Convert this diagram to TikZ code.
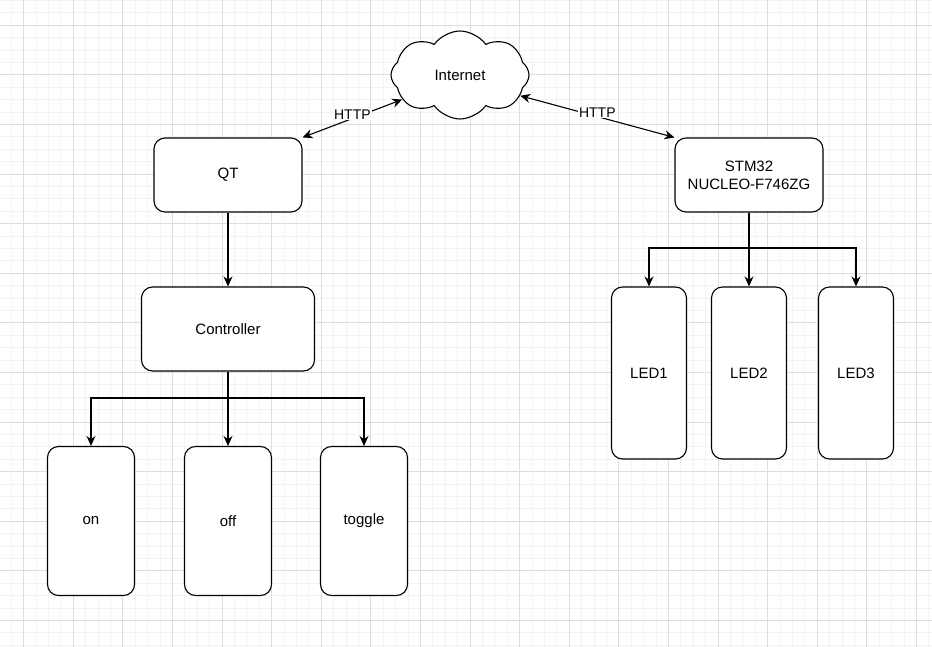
\documentclass[tikz,border=0pt]{standalone}
\usepackage{fontspec}
\setmainfont{Liberation Sans}
\usetikzlibrary{shapes.symbols, arrows.meta}

\definecolor{gridminor}{HTML}{F3F3F3}
\definecolor{gridmajor}{HTML}{DEDEDE}

\begin{document}
\begin{tikzpicture}[x=1pt, y=-1pt,
    box/.style={draw, line width=1.1pt, rounded corners=11pt, fill=white,
                align=center, font=\fontsize{15}{18}\selectfont},
    arr/.style={line width=1.1pt, -{Stealth[length=10pt, width=9pt]}},
    link/.style={line width=1.1pt, {Stealth[length=10pt, width=9pt]}-{Stealth[length=10pt, width=9pt]}},
    lbl/.style={fill=white, inner sep=1pt, font=\fontsize{14}{16}\selectfont}]
  \useasboundingbox (0,0) rectangle (932,647);
  % Background grid
  \foreach \i in {0,...,74}
    \draw[gridminor] ({10.9+12.4*\i},0) -- ++(0,647);
  \foreach \j in {0,...,52}
    \draw[gridminor] (0,{0.2+12.4*\j}) -- ++(932,0);
  \foreach \i in {0,...,18}
    \draw[gridmajor] ({23.3+49.6*\i},0) -- ++(0,647);
  \foreach \j in {0,...,12}
    \draw[gridmajor] (0,{25+49.6*\j}) -- ++(932,0);
  % Internet
  \node[cloud, cloud puffs=8, cloud puff arc=110, aspect=1.6, draw, line width=1.1pt, fill=white,
        minimum width=138pt, minimum height=88pt,
        font=\fontsize{15}{18}\selectfont] (inet) at (460,75) {Internet};
  % Left side: QT and controller
  \node[box, minimum width=148pt, minimum height=74pt] (qt) at (228,175) {QT};
  \node[box, minimum width=173pt, minimum height=84pt] (ctrl) at (228,329) {Controller};
  \node[box, minimum width=87pt, minimum height=149pt] (on) at (91,521) {on};
  \node[box, minimum width=87pt, minimum height=149pt] (off) at (228,521) {off};
  \node[box, minimum width=87pt, minimum height=149pt] (toggle) at (364,521) {toggle};
  % Right side: board and LEDs
  \node[box, minimum width=148pt, minimum height=74pt] (stm) at (749,175) {STM32\\NUCLEO-F746ZG};
  \node[box, minimum width=75pt, minimum height=172pt] (led1) at (649,373) {LED1};
  \node[box, minimum width=75pt, minimum height=172pt] (led2) at (749,373) {LED2};
  \node[box, minimum width=75pt, minimum height=172pt] (led3) at (856,373) {LED3};
  % Branch points
  \coordinate (cbus) at (228,398);
  \coordinate (sbus) at (749,248);
  % Connectors
  \draw[link] (qt.north east) -- (inet.203) node[lbl, midway, yshift=4pt] {HTTP};
  \draw[link] (inet.341) -- (stm.north west) node[lbl, midway, yshift=4pt] {HTTP};
  \draw[arr] (qt) -- (ctrl);
  \draw[arr] (ctrl.south) -- (cbus) -| (on.north);
  \draw[arr] (ctrl.south) -- (off.north);
  \draw[arr] (cbus) -| (toggle.north);
  \draw[arr] (stm.south) -- (sbus) -| (led1.north);
  \draw[arr] (stm.south) -- (led2.north);
  \draw[arr] (sbus) -| (led3.north);
\end{tikzpicture}
\end{document}
